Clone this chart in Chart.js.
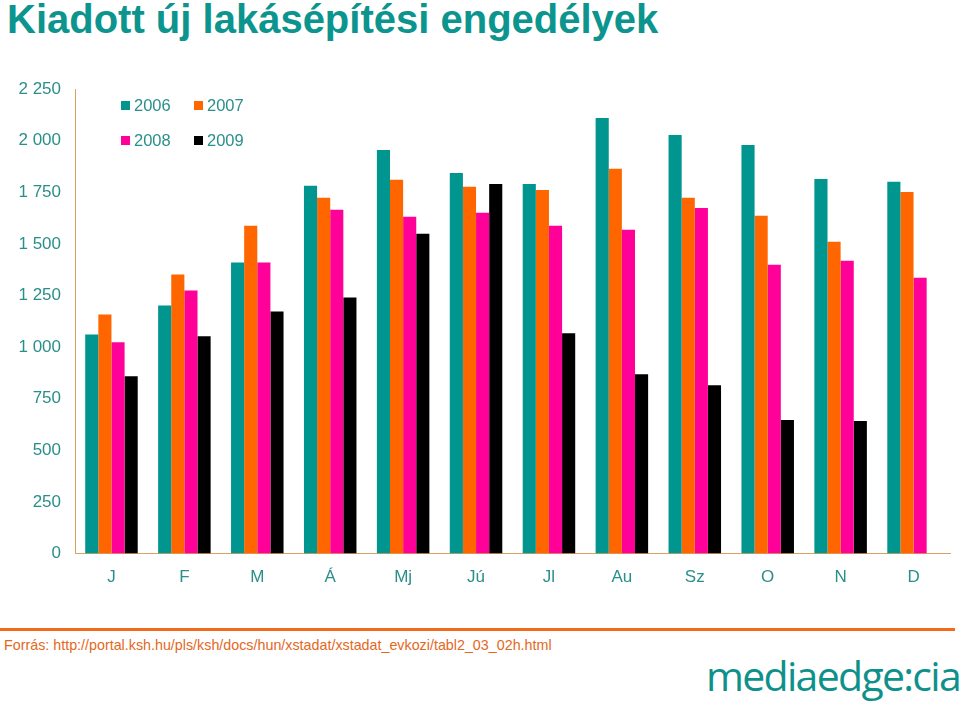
<!DOCTYPE html>
<html>
<head>
<meta charset="utf-8">
<script src="https://cdn.jsdelivr.net/npm/chart.js@4"></script>
<style>
  body { margin: 0; background: #fff; font-family: "Liberation Sans", Arial, sans-serif; }
  .page { position: relative; width: 959px; height: 706px; overflow: hidden; }
  .title { position: absolute; left: 7px; top: -3px; font-size: 40px; font-weight: bold; color: #0c948e;
           white-space: nowrap; }
  .chart-box { position: absolute; left: 0; top: 65px; width: 959px; height: 549px; }
  .legend { position: absolute; left: 121px; top: 96px; display: grid; grid-template-columns: 73px 80px;
            row-gap: 16px; font-size: 16.5px; color: #2a8f8a; }
  .legend span { display: flex; align-items: center; }
  .legend i { display: inline-block; width: 9px; height: 9px; margin-right: 4px; }
  .rule { position: absolute; left: 0; top: 628px; width: 955px; height: 3px; background: #f26b1d; }
  .source { position: absolute; left: 4px; top: 637px; font-size: 14.3px; color: #e4681c; white-space: nowrap; }
  .logo { position: absolute; left: 706px; top: 647px; font-size: 41px; color: #0f918b; letter-spacing: -1.7px;
          font-family: "Open Sans", sans-serif; white-space: nowrap; }
</style>
</head>
<body>
<div class="page">
  <div class="title">Kiadott új lakásépítési engedélyek</div>
  <div class="chart-box"><canvas id="permitsChart"></canvas></div>
  <div class="legend" id="legend"></div>
  <div class="rule"></div>
  <div class="source">Forrás: http://portal.ksh.hu/pls/ksh/docs/hun/xstadat/xstadat_evkozi/tabl2_03_02h.html</div>
  <div class="logo">mediaedge:cia</div>
</div>
<script>
// months (Hungarian abbreviations)
const months = ['J', 'F', 'M', 'Á', 'Mj', 'Jú', 'Jl', 'Au', 'Sz', 'O', 'N', 'D'];
const years = ['2006', '2007', '2008', '2009'];
const colors = ['#00958f', '#ff6600', '#ff0099', '#000000'];

// values
const permits2006 = [1062, 1202, 1410, 1782, 1955, 1844, 1791, 2110, 2028, 1980, 1815, 1801];
const permits2007 = [1159, 1352, 1588, 1724, 1811, 1777, 1762, 1864, 1724, 1637, 1511, 1752];
const permits2008 = [1024, 1275, 1410, 1666, 1632, 1651, 1588, 1569, 1675, 1400, 1419, 1337];
const permits2009 = [859, 1053, 1173, 1241, 1550, 1791, 1067, 869, 816, 647, 642, null];

const yTicks = [0, 250, 500, 750, 1000, 1250, 1500, 1750, 2000, 2250];

const series = [permits2006, permits2007, permits2008, permits2009];

// build the small legend (2 x 2) by hand
const legendEl = document.getElementById('legend');
years.forEach((year, i) => {
    const item = document.createElement('span');
    item.innerHTML = '<i style="background:' + colors[i] + '"></i>' + year;
    legendEl.appendChild(item);
});

const axisColor = '#d8a263';
const tickColor = '#2a8f8a';

const ctx = document.getElementById('permitsChart');
new Chart(ctx, {
    type: 'bar',
    data: {
        labels: months,
        datasets: series.map((values, i) => ({
            label: years[i],
            data: values,
            backgroundColor: colors[i],
            categoryPercentage: 0.72,
            barPercentage: 1.0
        }))
    },
    options: {
        responsive: true,
        maintainAspectRatio: false,
        animation: false,
        layout: { padding: { top: 10, right: 9, left: 0, bottom: 12 } },
        plugins: {
            legend: { display: false },
            tooltip: { enabled: false }
        },
        scales: {
            x: {
                grid: { display: false, drawTicks: false },
                border: { display: true, color: axisColor, width: 1 },
                ticks: {
                    color: tickColor,
                    padding: 14,
                    font: { family: 'Liberation Sans', size: 17 }
                }
            },
            y: {
                min: 0,
                max: 2250,
                afterBuildTicks: scale => { scale.ticks = yTicks.map(v => ({ value: v })); },
                afterFit: scale => { scale.width = 75; },
                grid: { display: false, drawTicks: false },
                border: { display: true, color: axisColor, width: 1 },
                ticks: {
                    color: tickColor,
                    padding: 14,
                    font: { family: 'Liberation Sans', size: 17 },
                    callback: value => value.toString().replace(/\B(?=(\d{3})+(?!\d))/g, ' ')
                }
            }
        }
    }
});
</script>
</body>
</html>
